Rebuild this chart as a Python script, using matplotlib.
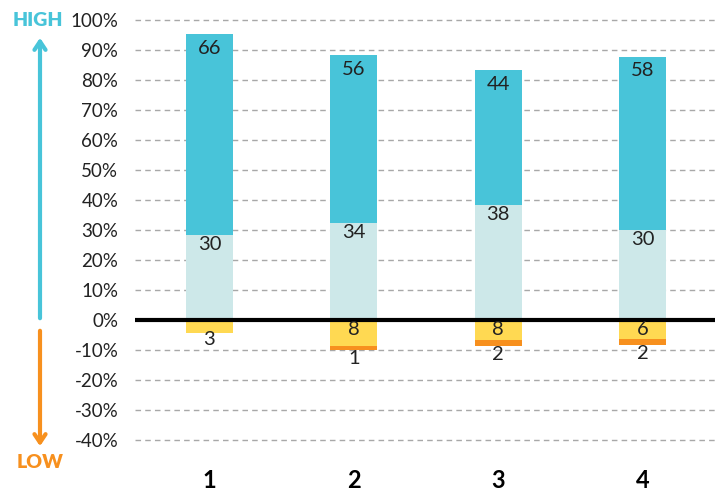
import matplotlib
matplotlib.use('Agg')
import matplotlib.pyplot as plt

plt.rcParams['font.family'] = ['Lato', 'DejaVu Sans']

categories = ['1', '2', '3', '4']
# segment heights in percent
light_pct = [28.3, 32.3, 38.3, 30.0]
dark_pct = [67.0, 56.0, 45.0, 57.7]
yellow_pct = [-4.2, -8.7, -6.7, -6.3]
orange_pct = [0.0, -1.3, -1.9, -1.9]
# numbers printed on the segments
light_lbl = [30, 34, 38, 30]
dark_lbl = [66, 56, 44, 58]
yellow_lbl = [3, 8, 8, 6]
orange_lbl = [None, 1, 2, 2]
yticks = list(range(-40, 101, 10))

TEAL = '#48C4D9'
LIGHT = '#CDE8E9'
YELLOW = '#FFD952'
ORANGE = '#F7901E'
TXT = '#222222'

W, H = 715, 491
fig = plt.figure(figsize=(W / 100, H / 100), dpi=100)
ax_l, ax_r, ax_t, ax_b = 135, 715, 17, 443
ax = fig.add_axes([ax_l / W, 1 - ax_b / H, (ax_r - ax_l) / W, (ax_b - ax_t) / H])

x = [1, 2, 3, 4]
bw = 0.326
ax.bar(x, light_pct, bw, color=LIGHT, zorder=2)
ax.bar(x, dark_pct, bw, bottom=light_pct, color=TEAL, zorder=2)
ax.bar(x, yellow_pct, bw, color=YELLOW, zorder=2)
ax.bar(x, orange_pct, bw, bottom=yellow_pct, color=ORANGE, zorder=2)

fs = 14.5
for i in range(4):
    ax.annotate(str(dark_lbl[i]), (x[i], light_pct[i] + dark_pct[i]), xytext=(0, -4),
                textcoords='offset points', ha='center', va='top', fontsize=fs, color=TXT, zorder=4)
    ax.annotate(str(light_lbl[i]), (x[i], light_pct[i]), xytext=(0, -1),
                textcoords='offset points', ha='center', va='top', fontsize=fs, color=TXT, zorder=4)
    if orange_lbl[i] is None:
        # small segment: label sits under the bar
        ax.annotate(str(yellow_lbl[i]), (x[i], yellow_pct[i]), xytext=(0, 1),
                    textcoords='offset points', ha='center', va='top', fontsize=fs, color=TXT, zorder=4)
    else:
        ax.annotate(str(yellow_lbl[i]), (x[i], 0), xytext=(0, -1),
                    textcoords='offset points', ha='center', va='top', fontsize=fs, color=TXT, zorder=4)
        ax.annotate(str(orange_lbl[i]), (x[i], yellow_pct[i] + orange_pct[i]), xytext=(0, 0),
                    textcoords='offset points', ha='center', va='top', fontsize=fs, color=TXT, zorder=4)

ax.axhline(0, xmin=2 / 580, color='black', lw=3, zorder=3)

ax.set_xlim(0.484, 4.502)
ax.set_ylim(-41, 101)
ax.set_yticks(yticks)
ax.set_yticklabels([f'{t}%' for t in yticks], fontsize=13.5, color=TXT)
ax.set_xticks(x)
ax.set_xticklabels(categories, fontsize=17, fontweight='bold', color='black')
ax.tick_params(axis='y', length=0, pad=12)
ax.tick_params(axis='x', length=0, pad=19)
ax.yaxis.grid(True, color='#A8A8A8', linestyle=(0, (4, 3)), lw=1, zorder=0)
ax.set_axisbelow(True)
for s in ax.spines.values():
    s.set_visible(False)

# high / low arrows on the left
fig.patches.append(matplotlib.patches.FancyArrowPatch(
    (40 / W, 1 - 321 / H), (40 / W, 1 - 35 / H), transform=fig.transFigure,
    arrowstyle='->,head_length=6,head_width=4', color=TEAL, lw=3, mutation_scale=1))
fig.patches.append(matplotlib.patches.FancyArrowPatch(
    (40 / W, 1 - 328 / H), (40 / W, 1 - 449 / H), transform=fig.transFigure,
    arrowstyle='->,head_length=6,head_width=4', color=ORANGE, lw=3, mutation_scale=1))
fig.text(38 / W, 1 - 21 / H, 'HIGH', color=TEAL, fontsize=14, fontweight='heavy', ha='center', va='center')
fig.text(40 / W, 1 - 463 / H, 'LOW', color=ORANGE, fontsize=14, fontweight='heavy', ha='center', va='center')

plt.savefig('out.png', dpi=100)
